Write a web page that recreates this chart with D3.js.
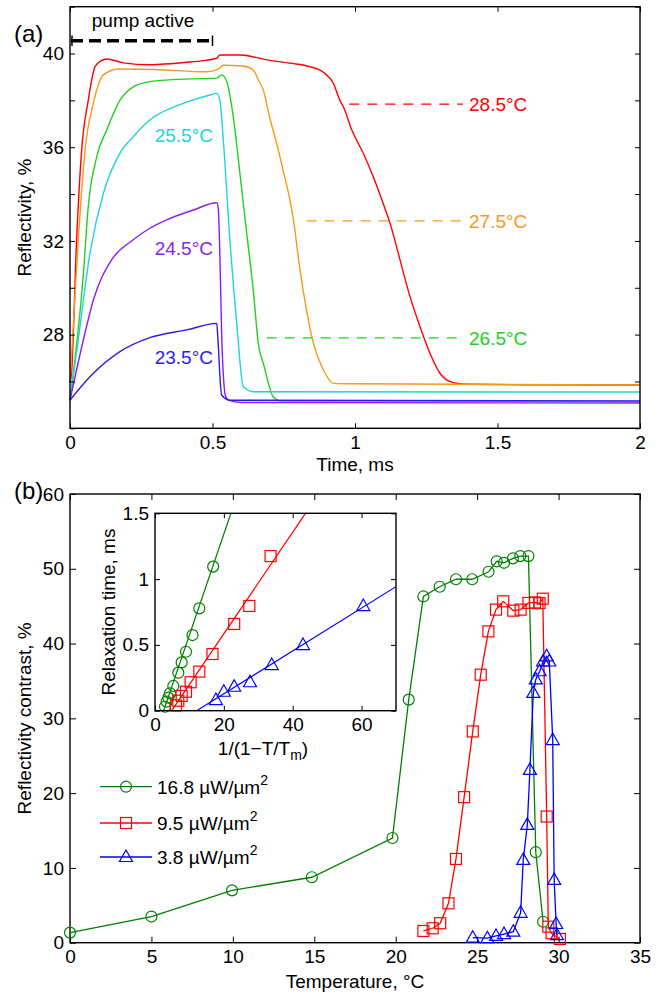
<!DOCTYPE html>
<html>
<head>
<meta charset="utf-8">
<script src="https://cdn.jsdelivr.net/npm/d3@7"></script>
<style>
  body { margin: 0; background: #fff; }
  svg { font-family: "Liberation Sans", Arial, sans-serif; }
</style>
</head>
<body>
<div id="chart"></div>
<script>
// ---- panel (a): reflectivity traces, [time ms, reflectivity %]
const trace285 = [[0,25.95],[0.005,26.3],[0.023,32.0],[0.041,35.9],[0.064,38.0],[0.088,39.44],[0.11,39.7],[0.129,39.77],[0.188,39.6],[0.28,39.52],[0.316,39.54],[0.4,39.62],[0.48,39.72],[0.515,39.8],[0.526,39.94],[0.6,39.94],[0.69,39.73],[0.772,39.59],[0.842,39.44],[0.889,39.2],[0.924,38.73],[0.947,38.0],[0.959,37.73],[0.99,36.7],[1.029,35.74],[1.064,34.74],[1.111,33.18],[1.123,32.75],[1.158,31.19],[1.193,29.62],[1.228,28.34],[1.263,27.2],[1.298,26.35],[1.345,25.95],[1.4,25.88],[1.6,25.86],[2,25.85]];
const trace275 = [[0,25.95],[0.029,32.05],[0.053,35.9],[0.082,37.88],[0.117,39.09],[0.17,39.34],[0.3,39.32],[0.48,39.22],[0.52,39.33],[0.538,39.5],[0.608,39.47],[0.643,39.3],[0.661,38.87],[0.678,38.45],[0.7,37.3],[0.725,36.17],[0.75,34.9],[0.772,33.73],[0.784,32.9],[0.807,30.76],[0.83,29.05],[0.854,27.63],[0.889,26.49],[0.924,25.92],[1.0,25.9],[2,25.85]];
const trace265 = [[0,25.2],[0.047,30.6],[0.064,33.46],[0.094,35.6],[0.129,36.74],[0.175,38.0],[0.222,38.58],[0.28,38.8],[0.4,38.91],[0.515,38.95],[0.532,39.09],[0.55,38.8],[0.573,37.3],[0.596,34.9],[0.62,32.33],[0.643,29.9],[0.661,27.6],[0.68,26.7],[0.713,25.35],[0.74,25.17],[2,25.14]];
const trace255 = [[0,25.2],[0.029,27.78],[0.07,31.47],[0.117,34.03],[0.175,35.74],[0.222,36.45],[0.28,37.16],[0.4,37.88],[0.491,38.23],[0.515,38.3],[0.526,38.0],[0.538,36.3],[0.561,32.05],[0.585,28.5],[0.608,25.78],[0.643,25.56],[2,25.55]];
const trace245 = [[0,25.2],[0.047,27.78],[0.082,29.48],[0.146,31.19],[0.222,32.05],[0.28,32.54],[0.339,32.9],[0.433,33.32],[0.515,33.63],[0.52,33.4],[0.535,27.0],[0.545,25.4],[0.556,25.2],[0.6,25.1],[2,25.08]];
const trace235 = [[0,25.2],[0.07,26.2],[0.175,27.27],[0.28,27.87],[0.409,28.2],[0.515,28.48],[0.518,28.0],[0.532,25.42],[0.561,25.2],[2,25.17]];

const traceLabels = ["28.5°C", "27.5°C", "26.5°C", "25.5°C", "24.5°C", "23.5°C"];
const timeTicks = [0, 0.5, 1, 1.5, 2];
const reflTicks = [24, 26, 28, 30, 32, 34, 36, 38, 40, 42];

// ---- panel (b): contrast vs temperature, [T °C, contrast %]
const contrast168 = [[0,1.35],[5,3.5],[9.95,7.0],[14.85,8.75],[19.8,14.0],[20.8,32.5],[21.7,46.3],[22.7,47.6],[23.7,48.6],[24.7,48.6],[25.7,49.6],[26.2,51.0],[26.65,50.8],[27.2,51.4],[27.65,51.7],[28.15,51.7],[28.6,12.1],[29.05,2.8]];
const contrast95 = [[21.7,1.57],[22.27,1.93],[22.73,2.6],[23.24,5.27],[23.7,11.2],[24.2,19.46],[24.73,28.25],[25.22,35.84],[25.69,41.63],[26.16,44.54],[26.6,45.65],[27.22,44.4],[27.67,44.54],[28.15,45.43],[28.55,45.5],[28.83,45.4],[29.03,46.0],[29.27,16.87],[29.37,2.14],[29.57,1.26],[30.08,0.5]];
const contrast38 = [[24.73,0.67],[25.63,0.6],[26.16,0.9],[26.65,1.16],[27.22,1.47],[27.67,4.0],[27.83,11.07],[28.08,15.76],[28.24,23.1],[28.45,33.4],[28.6,35.2],[28.84,36.3],[29.05,37.6],[29.27,38.3],[29.43,37.6],[29.64,27.1],[29.73,8.4],[29.85,2.5],[29.9,1.0]];
const powerLabels = ["16.8 µW/µm", "9.5 µW/µm", "3.8 µW/µm"];
const tempTicks = [0, 5, 10, 15, 20, 25, 30, 35];
const contrastTicks = [0, 10, 20, 30, 40, 50, 60];

// ---- inset: relaxation time vs 1/(1-T/Tm), [x, ms]
const relax168 = [[16.9,1.095],[12.87,0.778],[10.9,0.575],[9.0,0.448],[7.74,0.367],[6.77,0.289],[5.32,0.188],[4.35,0.132],[3.87,0.099],[3.39,0.069],[2.9,0.03]];
const relax95 = [[33.57,1.175],[27.4,0.796],[23.0,0.659],[16.7,0.431],[12.87,0.297],[10.35,0.216],[9.0,0.144],[7.74,0.112],[6.77,0.076],[6.1,0.04]];
const relax38 = [[60.5,0.795],[43.0,0.499],[33.9,0.347],[27.6,0.216],[23.0,0.182],[20.0,0.144],[17.7,0.081]];
// fitted lines: [slope, x-intercept]
const fitLines = [[0.0767, 2.5], [0.0386, 4.85], [0.01628, 12.1]];
const insetXTicks = [0, 20, 40, 60];
const insetYTicks = [0, 0.5, 1, 1.5];

const W = 664, H = 994;
const FS = 19;
const svg = d3.select("#chart").append("svg").attr("width", W).attr("height", H);

// helpers
function boxAxes(g, x, y, xt, yt, xfmt, yfmt, tick) {
    const [x0, x1] = x.range(), [y0, y1] = y.range();
    const bottom = g.append("g").attr("transform", `translate(0,${y0})`)
        .call(d3.axisBottom(x).tickValues(xt).tickSizeInner(-tick).tickSizeOuter(0).tickPadding(7).tickFormat(xfmt));
    const top = g.append("g").attr("transform", `translate(0,${y1})`)
        .call(d3.axisTop(x).tickValues(xt).tickSizeInner(-tick).tickSizeOuter(0).tickFormat(""));
    const left = g.append("g").attr("transform", `translate(${x0},0)`)
        .call(d3.axisLeft(y).tickValues(yt).tickSizeInner(-tick).tickSizeOuter(0).tickPadding(6).tickFormat(yfmt));
    const right = g.append("g").attr("transform", `translate(${x1},0)`)
        .call(d3.axisRight(y).tickValues(yt).tickSizeInner(-tick).tickSizeOuter(0).tickFormat(""));
    [bottom, top, left, right].forEach(a => {
        a.select(".domain").remove();
        a.selectAll("line").attr("stroke", "#000").attr("stroke-width", 1);
        a.selectAll("text").attr("font-size", FS).attr("fill", "#000")
            .attr("font-family", "Liberation Sans, Arial, sans-serif");
    });
    g.append("rect").attr("x", x0).attr("y", y1).attr("width", x1 - x0).attr("height", y0 - y1)
        .attr("fill", "none").attr("stroke", "#000").attr("stroke-width", 1.4);
}
const fmt = d => String(d);

// ================= panel (a)
const xA = d3.scaleLinear().domain([0, 2]).range([70, 640]);
const yA = d3.scaleLinear().domain([24, 42]).range([428.3, 6.7]);
const gA = svg.append("g");

const traceColors = ["#ff0000", "#f59a1b", "#1ed21e", "#1fd3dc", "#8a1cf5", "#2b1af5"];
const traces = [trace285, trace275, trace265, trace255, trace245, trace235];
const lineA = d3.line().x(d => xA(d[0])).y(d => yA(d[1])).curve(d3.curveMonotoneX);

traces.forEach((tr, i) => {
    gA.append("path").datum(tr).attr("d", lineA)
        .attr("fill", "none").attr("stroke", traceColors[i]).attr("stroke-width", 1.4)
        .attr("stroke-linejoin", "round");
});

boxAxes(gA, xA, yA, timeTicks, reflTicks, fmt, d => (d % 4 === 0 && d > 24 && d < 42) ? d : "", 5);

// dashed marker lines for the three slow traces
const markerLines = [[0.98, 37.84], [0.83, 32.86], [0.69, 27.86]];
markerLines.forEach((m, i) => {
    gA.append("line").attr("x1", xA(m[0])).attr("x2", 463)
        .attr("y1", yA(m[1])).attr("y2", yA(m[1]))
        .attr("stroke", traceColors[i]).attr("stroke-width", 1.3).attr("stroke-dasharray", "10,8");
    gA.append("text").attr("x", 469).attr("y", yA(m[1]) + 7)
        .attr("font-size", FS).attr("fill", traceColors[i]).text(traceLabels[i]);
});
// labels for the fast traces
const fastLabelY = [135, 248, 357];
[3, 4, 5].forEach((k, j) => {
    gA.append("text").attr("x", 213).attr("y", fastLabelY[j] + 7).attr("text-anchor", "end")
        .attr("font-size", FS).attr("fill", traceColors[k]).text(traceLabels[k]);
});

// pump active bar
gA.append("line").attr("x1", xA(0) + 1).attr("x2", xA(0.5)).attr("y1", 40.7).attr("y2", 40.7)
    .attr("stroke", "#000").attr("stroke-width", 3.5).attr("stroke-dasharray", "12,6");
[0, 0.5].forEach(t => {
    gA.append("line").attr("x1", xA(t) + (t === 0 ? 2 : 0)).attr("x2", xA(t) + (t === 0 ? 2 : 0))
        .attr("y1", 35.5).attr("y2", 46).attr("stroke", "#000").attr("stroke-width", 1.5);
});
gA.append("text").attr("x", 143).attr("y", 27).attr("text-anchor", "middle")
    .attr("font-size", FS).text("pump active");

gA.append("text").attr("x", 14).attr("y", 42).attr("font-size", 24).text("(a)");
gA.append("text").attr("x", 355).attr("y", 471).attr("text-anchor", "middle")
    .attr("font-size", FS).text("Time, ms");
gA.append("text").attr("transform", `translate(31,${(6.7 + 428.3) / 2}) rotate(-90)`)
    .attr("text-anchor", "middle").attr("font-size", FS).text("Reflectivity, %");

// ================= panel (b)
const xB = d3.scaleLinear().domain([0, 35]).range([70, 640]);
const yB = d3.scaleLinear().domain([0, 60]).range([942.7, 494]);
const gB = svg.append("g");
boxAxes(gB, xB, yB, tempTicks, contrastTicks, fmt, fmt, 6);

const seriesColors = ["#008000", "#ff0000", "#0000ff"];
const seriesB = [contrast168, contrast95, contrast38];
const lineB = d3.line().x(d => xB(d[0])).y(d => yB(d[1]));

function marker(g, kind, cx, cy, color) {
    if (kind === 0) {
        g.append("circle").attr("cx", cx).attr("cy", cy).attr("r", 5.5)
            .attr("fill", "none").attr("stroke", color).attr("stroke-width", 1.2);
    } else if (kind === 1) {
        g.append("rect").attr("x", cx - 5.5).attr("y", cy - 5.5).attr("width", 11).attr("height", 11)
            .attr("fill", "none").attr("stroke", color).attr("stroke-width", 1.2);
    } else {
        g.append("path").attr("d", `M${cx},${cy - 7}L${cx + 6.5},${cy + 4.5}L${cx - 6.5},${cy + 4.5}Z`)
            .attr("fill", "none").attr("stroke", color).attr("stroke-width", 1.2);
    }
}

seriesB.forEach((s, i) => {
    gB.append("path").datum(s).attr("d", lineB).attr("fill", "none")
        .attr("stroke", seriesColors[i]).attr("stroke-width", 1.3);
    s.forEach(d => marker(gB, i, xB(d[0]), yB(d[1]), seriesColors[i]));
});

// legend
const legendY = [786.7, 823, 857];
powerLabels.forEach((lab, i) => {
    gB.append("line").attr("x1", 100).attr("x2", 152).attr("y1", legendY[i]).attr("y2", legendY[i])
        .attr("stroke", seriesColors[i]).attr("stroke-width", 1.3);
    marker(gB, i, 126, legendY[i], seriesColors[i]);
    const t = gB.append("text").attr("x", 157).attr("y", legendY[i] + 7).attr("font-size", FS).text(lab);
    t.append("tspan").attr("dy", -9).attr("font-size", 14).text("2");
});

gB.append("text").attr("x", 14).attr("y", 499).attr("font-size", 24).text("(b)");
gB.append("text").attr("x", 355).attr("y", 988).attr("text-anchor", "middle")
    .attr("font-size", FS).text("Temperature, °C");
gB.append("text").attr("transform", `translate(31,${(494 + 942.7) / 2}) rotate(-90)`)
    .attr("text-anchor", "middle").attr("font-size", FS).text("Reflectivity contrast, %");

// ================= inset
const xI = d3.scaleLinear().domain([0, 70]).range([155, 396]);
const yI = d3.scaleLinear().domain([0, 1.5]).range([710.7, 513.3]);
const gI = svg.append("g");
gI.append("rect").attr("x", 155).attr("y", 513.3).attr("width", 241).attr("height", 197.4).attr("fill", "#fff");

const clip = gI.append("clipPath").attr("id", "insetClip");
clip.append("rect").attr("x", 155).attr("y", 513.3).attr("width", 241).attr("height", 197.4);

const relaxSeries = [relax168, relax95, relax38];
fitLines.forEach((f, i) => {
    const xEnd = Math.min(70, f[1] + 1.5 / f[0]);
    gI.append("line").attr("clip-path", "url(#insetClip)")
        .attr("x1", xI(f[1])).attr("y1", yI(0))
        .attr("x2", xI(xEnd)).attr("y2", yI(f[0] * (xEnd - f[1])))
        .attr("stroke", seriesColors[i]).attr("stroke-width", 1.2);
});
relaxSeries.forEach((s, i) => {
    s.forEach(d => marker(gI, i, xI(d[0]), yI(d[1]), seriesColors[i]));
});
boxAxes(gI, xI, yI, insetXTicks, insetYTicks, fmt, fmt, 5);

gI.append("text").attr("transform", `translate(115,${(513.3 + 710.7) / 2}) rotate(-90)`)
    .attr("text-anchor", "middle").attr("font-size", FS).text("Relaxation time, ms");
const xl = gI.append("text").attr("x", 263).attr("y", 755).attr("text-anchor", "middle").attr("font-size", FS);
xl.append("tspan").text("1/(1\u2212T/T");
xl.append("tspan").attr("dy", 5).attr("font-size", 14).text("m");
xl.append("tspan").attr("dy", -5).text(")");
</script>
</body>
</html>
